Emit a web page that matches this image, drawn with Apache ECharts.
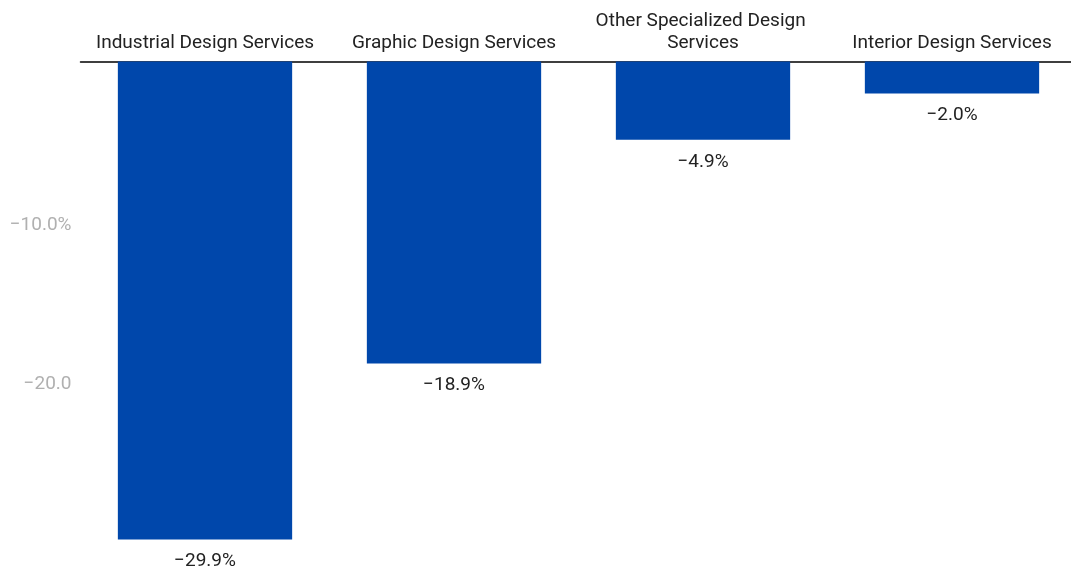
<!DOCTYPE html>
<html>
<head>
<meta charset="utf-8">
<script src="https://cdn.jsdelivr.net/npm/echarts@6/dist/echarts.min.js"></script>
<style>
  html, body { margin: 0; padding: 0; background: #fff; }
  #chart { width: 1071px; height: 568px; }
</style>
</head>
<body>
<div id="chart"></div>
<script>
const categories = [
  'Industrial Design Services',
  'Graphic Design Services',
  'Other Specialized Design Services',
  'Interior Design Services'
];
const changePct = [-29.9, -18.9, -4.9, -2.0];
const yTickLabels = { '-10': '\u221210.0%', '-20': '\u221220.0' };

const fmtPct = v => (v < 0 ? '\u2212' : '') + Math.abs(v).toFixed(1) + '%';

const chart = echarts.init(document.getElementById('chart'), null, { renderer: 'canvas' });
chart.setOption({
  animation: false,
  textStyle: { fontFamily: 'Roboto' },
  grid: { left: 80.5, width: 996, top: 61.5, bottom: 27, outerBoundsMode: 'none', containLabel: false },
  xAxis: {
    type: 'category',
    position: 'top',
    data: categories,
    axisLine: { show: true, lineStyle: { color: '#000', width: 1.5 } },
    axisTick: { show: false },
    axisLabel: {
      interval: 0,
      margin: 7.5,
      color: '#222',
      fontSize: 19,
      lineHeight: 22,
      width: 250,
      overflow: 'break',
      fontFamily: 'Roboto'
    }
  },
  yAxis: {
    type: 'value',
    min: -30,
    max: 0,
    interval: 10,
    axisLine: { show: false },
    axisTick: { show: false },
    splitLine: { show: false },
    axisLabel: {
      margin: 9,
      color: '#b0b0b0',
      fontSize: 19,
      fontFamily: 'Roboto',
      verticalAlign: 'top',
      lineHeight: 7,
      formatter: v => yTickLabels[String(v)] || ''
    }
  },
  series: [{
    type: 'bar',
    data: changePct,
    barWidth: '70%',
    itemStyle: { color: '#0047AB' },
    label: {
      show: true,
      position: 'bottom',
      distance: 12.5,
      color: '#222',
      fontSize: 19,
      fontFamily: 'Roboto',
      formatter: p => fmtPct(p.value)
    }
  }]
});
</script>
</body>
</html>
